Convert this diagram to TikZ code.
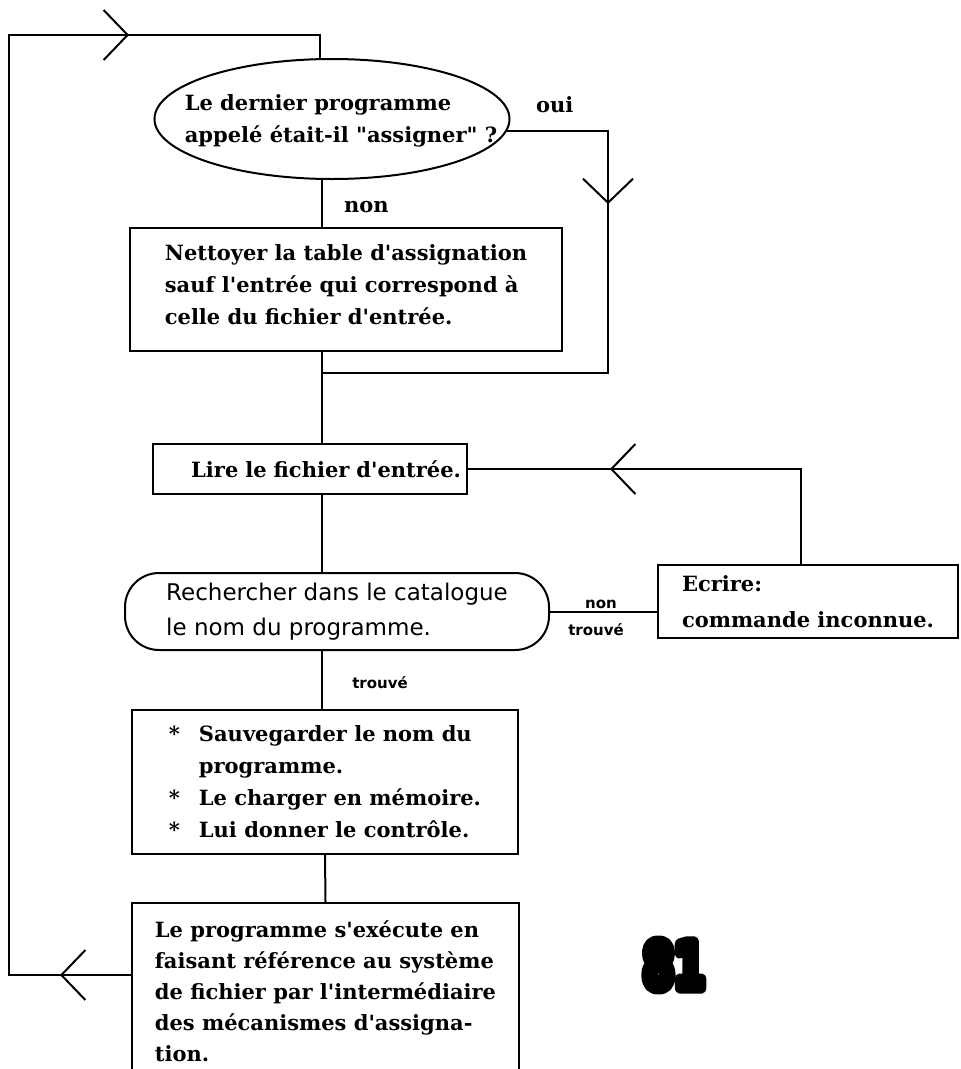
\documentclass[tikz,border=0pt]{standalone}
\usepackage{fontspec}
\setmainfont{DejaVu Serif}[Ligatures=TeXOff]
\setsansfont{DejaVu Sans}[Ligatures=TeXOff]
\usepackage{graphicx}
\usetikzlibrary{arrows.meta,decorations.markings,shapes.geometric}
\newcommand{\puce}{\makebox[30pt][l]{*}}
\newcommand{\creux}[1]{\special{pdf:literal direct 2 Tr 12 w 1 j 1 1 1 rg 0 0 0 RG}#1\special{pdf:literal direct 0 Tr 0 0 0 rg}}

\begin{document}
\begin{tikzpicture}[
	x=1pt, y=-1pt, line width=2pt,
	chevron/.tip={Straight Barb[length=24pt, width=50pt]},
	chev/.style={
		decoration={
			markings,
			mark=at position #1 with {\arrow{chevron}}
		},
		postaction={decorate}
	},
	chevs/.style 2 args={
		decoration={
			markings,
			mark=at position #1 with {\arrow{chevron}},
			mark=at position #2 with {\arrow{chevron}}
		},
		postaction={decorate}
	},
	texte/.style={font=\fontsize{21}{32}\selectfont\bfseries},
	boite/.style={draw, rectangle, texte, align=left, inner sep=0pt},
	petit/.style={font=\sffamily\bfseries\fontsize{15}{15}\selectfont, inner sep=0pt, anchor=base}
]
	\clip (0,0) rectangle (961,1069);
	\coordinate (col) at (322,0);
	\coordinate (bl) at (9,975);
	\coordinate (tl) at (9,35);
	\coordinate (tr) at (320,35);
	\coordinate (dcol) at (608,0);
	\coordinate (jonc) at (322,373);
	\coordinate (ecol) at (801,0);
	\node[ellipse, draw, minimum width=355pt, minimum height=120pt, inner sep=0pt,
		label={[name=question, texte, align=left, inner sep=0pt, xshift=9pt, yshift=-2pt]center:{Le dernier programme\\appelé était-il "assigner" ?}}] (ell) at (332,119) {};
	\node[boite, minimum width=432pt, minimum height=123pt, text depth=10pt] (nettoyer) at (346,289.5) {Nettoyer la table d'assignation\\sauf l'entrée qui correspond à\\celle du fichier d'entrée.};
	\node[boite, align=right, text width=302pt, inner xsep=6pt, minimum height=50pt] (lire) at (310,469) {Lire le fichier d'entrée.};
	\node[draw, rectangle, rounded corners=34pt, minimum width=424pt, minimum height=77pt, align=left, inner sep=0pt, font=\sffamily\fontsize{23}{35}\selectfont] (recherche) at (337,611.5) {Rechercher dans le catalogue\\le nom du programme.};
	\node[boite, font=\fontsize{21}{36}\selectfont\bfseries, minimum width=300pt, minimum height=73pt] (ecrire) at (808,601.5) {Ecrire:\\commande inconnue.};
	\node[boite, minimum width=386pt, minimum height=144pt] (sauver) at (325,782) {\puce Sauvegarder le nom du\\\hphantom{\puce}programme.\\\puce Le charger en mémoire.\\\puce Lui donner le contrôle.};
	\node[boite, font=\fontsize{21}{31}\selectfont\bfseries, minimum width=387pt, minimum height=176pt, anchor=north] (execute) at (325.5,902) {Le programme s'exécute en\\faisant référence au système\\de fichier par l'intermédiaire\\des mécanismes d'assigna-\\tion.};
	\node[texte, anchor=base west, inner sep=0pt] (oui) at (535,112) {oui};
	\node[texte, anchor=base west, inner sep=0pt] (non) at (343,212) {non};
	\node[petit] (nontr) at (601,608) {non};
	\node[petit] (trouve) at (596,635) {trouvé};
	\node[petit] (trouvebas) at (380,688) {trouvé};
	\node[font=\sffamily\bfseries\fontsize{62}{62}\selectfont, inner sep=0pt] (page) at (674,965) {\scalebox{0.72}[1]{\creux{81}}};
	\draw[chevs={71pt}{1182pt}] (bl -| execute.west) -- (bl) -- (tl) -- (tr) -- (tr |- ell.north);
	\draw[chev=174pt] (ell.-4) -- (ell.-4 -| dcol) -- (dcol |- jonc) -- (jonc);
	\draw[chev=286pt] (ecrire.north -| ecol) -- (ecol |- lire.east) -- (lire.east);
	\draw (ell.south -| col) -- (nettoyer.north -| col);
	\draw (nettoyer.south -| col) -- (lire.north -| col);
	\draw (lire.south -| col) -- (recherche.north -| col);
	\draw (recherche.east) -- (recherche.east -| ecrire.west);
	\draw (recherche.south -| col) -- (sauver.north -| col);
	\draw (sauver.south) -- (execute.north);
\end{tikzpicture}
\end{document}
